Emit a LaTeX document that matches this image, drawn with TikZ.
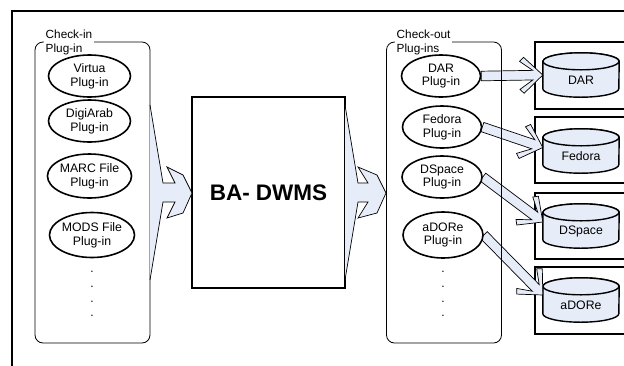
\documentclass[tikz,border=0pt]{standalone}
\usepackage{fontspec}
\setmainfont{Liberation Sans}
\usetikzlibrary{calc,shapes.geometric,backgrounds}
\definecolor{lightblue}{RGB}{230,236,248}
\tikzset{
 plug/.style={ellipse, draw, line width=1.6pt, fill=white, minimum width=81pt, minimum height=42pt, inner sep=0pt, align=center, font=\fontsize{12.3}{13.8}\selectfont},
 container/.style={draw, rounded corners=8pt, line width=0.8pt, minimum width=115pt, minimum height=301pt},
 grouptitle/.style={fill=white, inner xsep=2pt, inner ysep=1pt, align=left, anchor=north west, font=\fontsize{11.8}{14}\selectfont},
 mainbox/.style={draw, line width=1.4pt, minimum width=153pt, minimum height=191pt, font=\bfseries\fontsize{22.5}{27}\selectfont},
 bigarrow/.style={fill=lightblue, draw, line width=0.7pt, line join=miter},
 fatarrowstyle/.style={fill=lightblue, draw, line width=0.7pt},
 dbframe/.style={draw, line width=1.6pt},
 dbslot/.style={minimum width=76pt, minimum height=44pt, inner sep=0pt},
 cyl/.style={fill=lightblue, draw, line width=1.4pt},
 dblabel/.style={font=\fontsize{12.3}{14}\selectfont},
 dotmark/.style={font=\fontsize{12}{14}\selectfont, inner sep=0pt, anchor=base},
 outerframe/.style={draw, line width=1.4pt},
}
\newcommand\drawcyl[1]{%
 \filldraw[cyl] ([yshift=-8.5pt]#1.north west) -- ([yshift=8.5pt]#1.south west)
   arc[start angle=180, end angle=360, x radius=38pt, y radius=8.5pt]
   -- ([yshift=-8.5pt]#1.north east)
   arc[start angle=0, end angle=180, x radius=38pt, y radius=8.5pt] -- cycle;
 \draw[cyl] ([yshift=-8.5pt]#1.north) ellipse[x radius=38pt, y radius=8.5pt];}
\newcommand\drawfatarrow[2]{%
 \path let \p1=(#1), \p2=(#2), \n1={atan2(\y2-\y1,\x2-\x1)}, \n2={veclen(\x2-\x1,\y2-\y1)} in
   \pgfextra{\pgfmathsetmacro\faang{\n1}\pgfmathsetmacro\falen{\n2}\global\let\faang\faang\global\let\falen\falen};
 \begin{scope}[shift={(#2)}, rotate=\faang]
  \filldraw[fatarrowstyle] (-\falen pt,4.8pt) -- (-10pt,4.8pt) -- (-23pt,14pt) -- (-19pt,18pt) -- (0pt,0pt)
    -- (-19pt,-18pt) -- (-23pt,-14pt) -- (-10pt,-4.8pt) -- (-\falen pt,-4.8pt) -- cycle;
 \end{scope}}
\begin{document}
\begin{tikzpicture}[x=1pt, y=-1pt]
\useasboundingbox (0,0) rectangle (624,365);
% outer frame
\draw[outerframe] (626,11) -- (12,11) -- (12,367);
% containers
\node[container] (cin) at (92.5,192.5) {};
\node[container] (cout) at (444,192.5) {};
\node[grouptitle] (cintitle) at (43.5,28.5) {Check-in\\Plug-in};
\node[grouptitle] (couttitle) at (394.5,28.5) {Check-out\\Plug-ins};
% check-in plug-ins
\node[plug, minimum width=82pt] (virtua) at (89.5,76) {Virtua\\Plug-in};
\node[plug, minimum width=82pt] (digiarab) at (89.5,121) {DigiArab\\Plug-in};
\node[plug, minimum width=84pt, minimum height=44pt] (marc) at (89.5,176) {MARC File\\Plug-in};
\node[plug, minimum width=82pt, minimum height=45pt] (mods) at (92,235) {MODS File\\Plug-in};
\foreach \i/\y in {1/272,2/287,3/302,4/316}
  \node[dotmark] (ldot\i) at (92,\y) {.};
% check-out plug-ins
\node[plug, minimum width=79pt] (dar) at (441,76) {DAR\\Plug-in};
\node[plug, minimum width=79pt] (fedora) at (442,127) {Fedora\\Plug-in};
\node[plug, minimum width=80pt] (dspace) at (442,177) {DSpace\\Plug-in};
\node[plug, minimum width=80pt, minimum height=46pt] (adore) at (443,235) {aDORe\\Plug-in};
\foreach \i/\y in {1/272,2/287,3/302,4/316}
  \node[dotmark] (rdot\i) at (443,\y) {.};
% main box
\node[mainbox] (ba) at (268.5,192.5) {BA- DWMS};
% big arrows
\draw[bigarrow] (150,105) -- (163,183) -- (175,183) -- (167,167) -- (183,175) -- (192,193)
  -- (183,213) -- (167,218) -- (175,202) -- (163,202) -- (150,280);
\draw[bigarrow] (345,105) -- (358,183) -- (368,183) -- (358,167) -- (377,175) -- (386,193)
  -- (377,213) -- (358,218) -- (368,202) -- (358,202) -- (345,280);
% repository slots
\node[dbslot] (dbdar) at (581,75) {};
\node[dbslot] (dbfed) at (581,151) {};
\node[dbslot] (dbdsp) at (581,226) {};
\node[dbslot] (dbado) at (581,300) {};
\begin{pgfonlayer}{background}
 \draw[dbframe] (626,42) -| (535,109) -- (626,109);
 \draw[dbframe] (626,117) -| (535,183) -- (626,183);
 \draw[dbframe] (626,193) -| (535,259) -- (626,259);
 \draw[dbframe] (626,267) -| (535,334) -- (626,334);
 \drawcyl{dbdar}
 \drawcyl{dbfed}
 \drawcyl{dbdsp}
 \drawcyl{dbado}
 \drawfatarrow{dar.east}{dbdar.west}
 \drawfatarrow{fedora.east}{[yshift=3.5pt]dbfed.west}
 \drawfatarrow{dspace.east}{[yshift=4pt]dbdsp.west}
 \drawfatarrow{adore.east}{[yshift=5pt]dbado.west}
\end{pgfonlayer}
\node[dblabel] (dbdarlbl) at ([yshift=-5pt]dbdar.center) {DAR};
\node[dblabel] (dbfedlbl) at ([yshift=-5pt]dbfed.center) {Fedora};
\node[dblabel] (dbdsplbl) at ([yshift=-5pt]dbdsp.center) {DSpace};
\node[dblabel] (dbadolbl) at ([yshift=-5pt]dbado.center) {aDORe};
\end{tikzpicture}
\end{document}
